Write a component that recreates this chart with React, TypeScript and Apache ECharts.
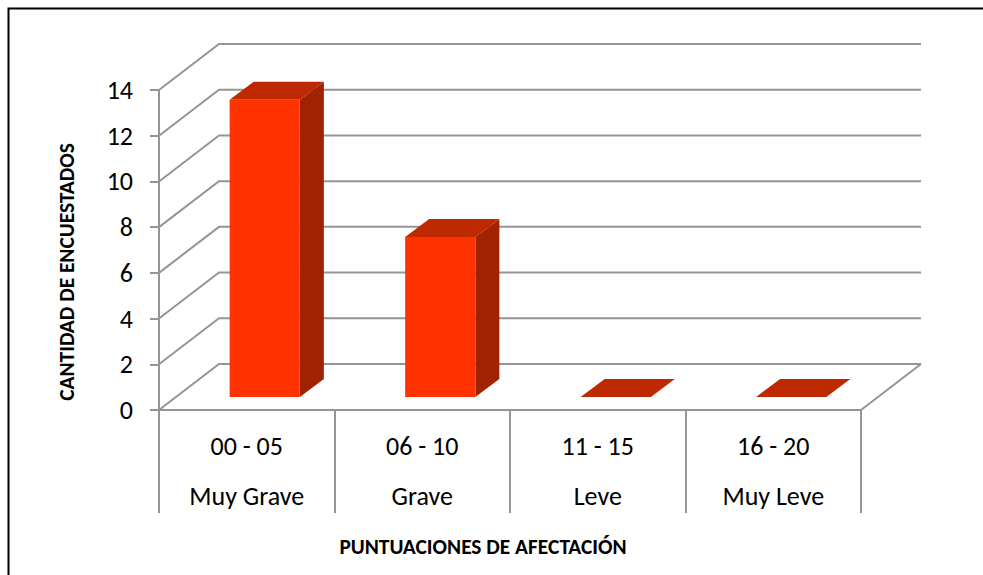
import React, { useEffect, useRef } from "react";
import * as echarts from "echarts";

const ranges = ["00 - 05", "06 - 10", "11 - 15", "16 - 20"];
const severities = ["Muy Grave", "Grave", "Leve", "Muy Leve"];
const counts = [13, 7, 0, 0];
const yTicks = [0, 2, 4, 6, 8, 10, 12, 14];
const yTitle = "CANTIDAD DE ENCUESTADOS";
const xTitle = "PUNTUACIONES DE AFECTACIÓN";

const FONT = "Carlito, Lato, sans-serif";
const GRAY = "#959595";
const WALL_DX = 60;
const WALL_DY = 46;

function renderWall(params: any, api: any) {
  const cs = params.coordSys;
  const value = api.value(0);
  const y = api.coord([0, value])[1];
  const left = cs.x;
  const right = cs.x + cs.width;
  const style = { stroke: GRAY, lineWidth: 2, fill: "none" };
  const children: any[] = [
    { type: "polyline", shape: { points: [[left, y], [left + WALL_DX, y - WALL_DY], [right + WALL_DX, y - WALL_DY]] }, style },
  ];
  if (value === 0) {
    children.push({ type: "line", shape: { x1: right, y1: y, x2: right + WALL_DX, y2: y - WALL_DY }, style });
  }
  return { type: "group", children };
}

function renderBar(params: any, api: any) {
  const idx = api.value(0);
  const top = api.coord([idx, api.value(1)]);
  const base = api.coord([idx, 0]);
  const band = api.size([1, 0])[0];
  const w = band * 0.4;
  const x0 = base[0] - w / 2 + 18;
  const x1 = x0 + w;
  const yB = base[1] - 13;
  const yT = top[1] - 13;
  const dx = 24;
  const dy = 18;
  return {
    type: "group",
    children: [
      {
        type: "polygon",
        shape: { points: [[x1, yB], [x1 + dx, yB - dy], [x1 + dx, yT - dy], [x1, yT]] },
        style: { fill: "#A02200" },
      },
      {
        type: "polygon",
        shape: { points: [[x0, yT], [x0 + dx, yT - dy], [x1 + dx, yT - dy], [x1, yT]] },
        style: { fill: "#BF2900" },
      },
      { type: "rect", shape: { x: x0, y: yT, width: w, height: yB - yT }, style: { fill: "#FF3300" } },
    ],
  };
}

export default function App() {
  const ref = useRef<HTMLDivElement>(null);
  useEffect(() => {
    document.body.style.margin = "0";
    const chart = echarts.init(ref.current!, undefined, { renderer: "svg" });
    chart.setOption({
      animation: false,
      backgroundColor: "#fff",
      grid: { left: 159, right: 122, top: 90, bottom: 165, containLabel: false },
      xAxis: {
        type: "category",
        data: ranges.map((r, i) => `${r}\n${severities[i]}`),
        boundaryGap: true,
        axisLine: { show: true, lineStyle: { color: GRAY, width: 2 } },
        axisTick: { show: true, alignWithLabel: false, length: 103, lineStyle: { color: GRAY, width: 2 } },
        axisLabel: { margin: 11, fontFamily: FONT, fontSize: 26, lineHeight: 50, color: "#000", interval: 0 },
      },
      yAxis: {
        type: "value",
        min: 0,
        max: 14,
        interval: 2,
        splitLine: { show: false },
        axisLine: { show: true, lineStyle: { color: GRAY, width: 2 } },
        axisTick: { show: true, length: 9, lineStyle: { color: GRAY, width: 2 } },
        axisLabel: { margin: 26, fontFamily: FONT, fontSize: 26, color: "#000", padding: [3, 0, 0, 0] },
      },
      series: [
        {
          type: "custom",
          z: 1,
          silent: true,
          renderItem: renderWall,
          encode: { y: 0 },
          data: yTicks.map((v) => [v]),
        },
        {
          type: "custom",
          z: 2,
          silent: true,
          renderItem: renderBar,
          encode: { x: 0, y: 1 },
          data: counts.map((c, i) => [i, c]),
        },
      ],
      graphic: [
        {
          type: "polyline",
          shape: { points: [[8.5, 575], [8.5, 8.5], [983, 8.5]] },
          style: { stroke: "#000", lineWidth: 2, fill: "none" },
        },
        {
          type: "text",
          x: 67,
          y: 272,
          rotation: Math.PI / 2,
          style: { text: yTitle, fontFamily: FONT, fontSize: 21.4, fontWeight: "bold", fill: "#000", align: "center", verticalAlign: "middle" },
        },
        {
          type: "text",
          x: 483,
          y: 547,
          style: { text: xTitle, fontFamily: FONT, fontSize: 21.4, fontWeight: "bold", fill: "#000", align: "center", verticalAlign: "middle" },
        },
      ],
    });
    return () => chart.dispose();
  }, []);
  return <div ref={ref} style={{ width: 983, height: 575 }} />;
}
